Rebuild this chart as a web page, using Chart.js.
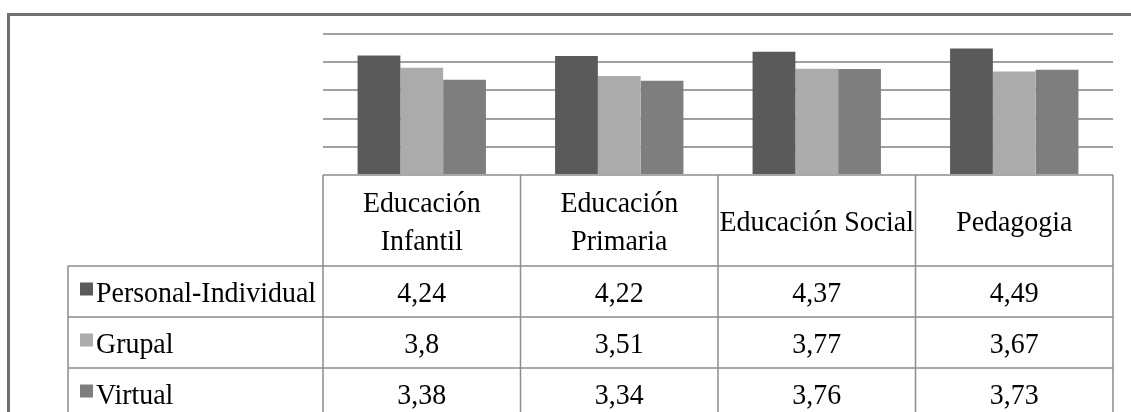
<!DOCTYPE html>
<html>
<head>
<meta charset="utf-8">
<script src="https://cdn.jsdelivr.net/npm/chart.js@4/dist/chart.umd.min.js"></script>
<style>
  html, body { margin: 0; padding: 0; background: #fff; }
  canvas { display: block; }
</style>
</head>
<body>
<canvas id="chart" width="1131" height="412"></canvas>
<script>
// Degree programmes (header cells of the data table)
const categories = [['Educación', 'Infantil'], ['Educación', 'Primaria'], ['Educación Social'], ['Pedagogia']];
const seriesNames = ['Personal-Individual', 'Grupal', 'Virtual'];
const personal = [4.24, 4.22, 4.37, 4.49];
const grupal = [3.8, 3.51, 3.77, 3.67];
const virtual = [3.38, 3.34, 3.76, 3.73];
const seriesColors = ['#5a5a5a', '#ababab', '#7e7e7e'];

const lineColor = '#8c8c8c';
const textFont = '30px "Liberation Serif", "Times New Roman", serif';

// condensed serif text, like the printed table
function drawText(ctx, text, x, y, align) {
    ctx.save();
    ctx.translate(x, y);
    ctx.scale(0.93, 1);
    ctx.textAlign = align;
    ctx.textBaseline = 'alphabetic';
    ctx.fillText(text, 0, 0);
    ctx.restore();
}

const fmt = v => String(v).replace('.', ',');

// Frame around the figure plus the data table under the bars
const tablePlugin = {
    id: 'dataTable',
    afterDraw(chart) {
        const ctx = chart.ctx;
        const area = chart.chartArea;
        const xScale = chart.scales.x;
        const colW = (area.right - area.left) / categories.length;
        const legendLeft = 68;
        const headerTop = area.bottom;
        const headerH = 91;
        const rowH = 51;
        const rows = [personal, grupal, virtual];

        ctx.save();
        // outer frame
        ctx.strokeStyle = '#707070';
        ctx.lineWidth = 3;
        ctx.beginPath();
        ctx.moveTo(8.5, chart.height);
        ctx.lineTo(8.5, 14.5);
        ctx.lineTo(chart.width, 14.5);
        ctx.stroke();

        // table grid
        ctx.strokeStyle = lineColor;
        ctx.lineWidth = 1.5;
        ctx.beginPath();
        ctx.moveTo(area.left, headerTop);
        ctx.lineTo(area.right, headerTop);
        for (let r = 0; r <= rows.length; r++) {
            const y = headerTop + headerH + r * rowH;
            ctx.moveTo(legendLeft, y);
            ctx.lineTo(area.right, y);
        }
        ctx.moveTo(legendLeft, headerTop + headerH);
        ctx.lineTo(legendLeft, chart.height);
        for (let c = 0; c <= categories.length; c++) {
            const x = area.left + c * colW;
            ctx.moveTo(x, headerTop);
            ctx.lineTo(x, chart.height);
        }
        ctx.stroke();

        // header cells
        ctx.fillStyle = '#000';
        ctx.font = textFont;
        const headCenter = headerTop + headerH / 2;
        categories.forEach((lines, i) => {
            const cx = xScale.getPixelForValue(i);
            lines.forEach((line, j) => {
                const y = headCenter + 10 + (j - (lines.length - 1) / 2) * 38;
                drawText(ctx, line, cx, y, 'center');
            });
        });

        // series rows: legend swatch, name, values
        rows.forEach((values, r) => {
            const center = headerTop + headerH + r * rowH + rowH / 2;
            ctx.fillStyle = seriesColors[r];
            ctx.fillRect(80, center - 9, 13, 13);
            ctx.fillStyle = '#000';
            drawText(ctx, seriesNames[r], 96, center + 10, 'left');
            values.forEach((v, i) => {
                drawText(ctx, fmt(v), xScale.getPixelForValue(i), center + 10, 'center');
            });
        });
        ctx.restore();
    }
};

new Chart(document.getElementById('chart'), {
    type: 'bar',
    data: {
        labels: categories,
        datasets: [personal, grupal, virtual].map((data, i) => ({
            label: seriesNames[i],
            data: data,
            backgroundColor: seriesColors[i],
            borderWidth: 0,
            categoryPercentage: 0.65,
            barPercentage: 1.0
        }))
    },
    options: {
        responsive: false,
        animation: false,
        devicePixelRatio: 1,
        layout: { padding: { left: 323, right: 18, top: 34, bottom: 237 } },
        plugins: { legend: { display: false }, tooltip: { enabled: false } },
        scales: {
            x: { display: false },
            y: {
                min: 0,
                max: 5,
                ticks: { display: false, stepSize: 1 },
                border: { display: false },
                grid: {
                    drawTicks: false,
                    lineWidth: 2,
                    color: c => c.tick && c.tick.value === 0 ? 'rgba(0,0,0,0)' : '#a0a0a0'
                }
            }
        }
    },
    plugins: [tablePlugin]
});
</script>
</body>
</html>
